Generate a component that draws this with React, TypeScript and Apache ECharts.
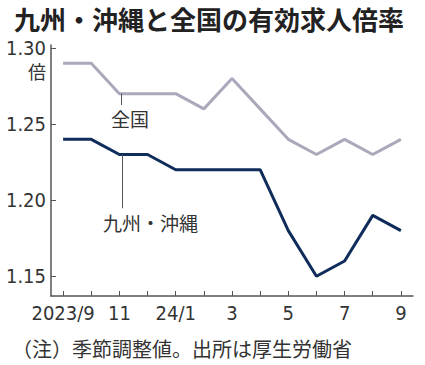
import React, { useEffect, useRef } from "react";
import * as echarts from "echarts";

const months = ["2023/9", "10", "11", "12", "24/1", "2", "3", "4", "5", "6", "7", "8", "9"];
const national = [1.29, 1.29, 1.27, 1.27, 1.27, 1.26, 1.28, 1.26, 1.24, 1.23, 1.24, 1.23, 1.24];
const kyushu = [1.24, 1.24, 1.23, 1.23, 1.22, 1.22, 1.22, 1.22, 1.18, 1.15, 1.16, 1.19, 1.18];
const yTicks = [1.15, 1.2, 1.25, 1.3];
const xLabelIdx = [0, 2, 4, 6, 8, 10, 12];

const NUM_FONT = "'Liberation Sans Narrow', 'DejaVu Sans Condensed', 'Noto Sans CJK JP', sans-serif";
const CJK_FONT = "'Noto Sans CJK JP', sans-serif";
const GRAY = "#a9a9bb";
const NAVY = "#0f2c5a";
const AXIS = "#555555";
const TEXT = "#333333";

export default function App() {
  const ref = useRef<HTMLDivElement>(null);
  useEffect(() => {
    document.body.style.margin = "0";
    if (!ref.current) return;
    const chart = echarts.init(ref.current, null, { renderer: "svg" });
    chart.setOption({
      animation: false,
      backgroundColor: "#ffffff",
      grid: { left: 51, right: 12, top: 45, bottom: 69 },
      xAxis: {
        type: "value",
        min: -0.43,
        max: 12.43,
        axisLine: { onZero: false, lineStyle: { color: AXIS, width: 1.5 } },
        axisTick: {
          inside: true,
          length: 5,
          customValues: months.map((_, i) => i),
          lineStyle: { color: AXIS, width: 1 },
        },
        axisLabel: {
          customValues: xLabelIdx,
          formatter: (v: number) => months[Math.round(v)],
          fontFamily: NUM_FONT,
          fontSize: 20,
          color: TEXT,
          margin: 7,
        },
        splitLine: { show: false },
      },
      yAxis: {
        type: "value",
        min: 1.137,
        max: 1.302,
        axisLine: { show: true, onZero: false, lineStyle: { color: AXIS, width: 1.5 } },
        axisTick: {
          show: true,
          inside: true,
          length: 5,
          customValues: yTicks,
          lineStyle: { color: AXIS, width: 1 },
        },
        axisLabel: {
          customValues: yTicks,
          formatter: (v: number) => v.toFixed(2),
          fontFamily: NUM_FONT,
          fontSize: 20,
          color: TEXT,
          margin: 5,
        },
        splitLine: { show: false },
      },
      graphic: [
        {
          type: "text",
          left: 14,
          top: 5,
          style: {
            text: "九州・沖縄と全国の有効求人倍率",
            fontFamily: CJK_FONT,
            fontSize: 26,
            fontWeight: "bold",
            fill: "#222222",
          },
        },
        {
          type: "text",
          x: 46,
          y: 71,
          style: {
            text: "倍",
            fontFamily: CJK_FONT,
            fontSize: 18,
            fill: TEXT,
            align: "right",
            verticalAlign: "middle",
          },
        },
        {
          type: "text",
          x: 111,
          y: 109,
          style: { text: "全国", fontFamily: CJK_FONT, fontSize: 19, fill: TEXT },
        },
        {
          type: "text",
          x: 103,
          y: 213,
          style: { text: "九州・沖縄", fontFamily: CJK_FONT, fontSize: 19, fill: TEXT },
        },
        {
          type: "text",
          x: 12,
          y: 338,
          style: {
            text: "（注）季節調整値。出所は厚生労働省",
            fontFamily: CJK_FONT,
            fontSize: 20,
            fill: TEXT,
          },
        },
      ],
      series: [
        {
          name: "全国",
          type: "line",
          data: national.map((v, i) => [i, v]),
          symbol: "none",
          lineStyle: { color: GRAY, width: 3 },
          z: 2,
          markLine: {
            silent: true,
            symbol: "none",
            label: { show: false },
            lineStyle: { color: "#555555", width: 1, type: "solid" },
            data: [[{ coord: [2.05, 1.27] }, { coord: [2.05, 1.2625] }]],
          },
        },
        {
          name: "九州・沖縄",
          type: "line",
          data: kyushu.map((v, i) => [i, v]),
          symbol: "none",
          lineStyle: { color: NAVY, width: 3 },
          z: 3,
          markLine: {
            silent: true,
            symbol: "none",
            label: { show: false },
            lineStyle: { color: "#555555", width: 1, type: "solid" },
            data: [[{ coord: [2.1, 1.23] }, { coord: [2.1, 1.1947] }]],
          },
        },
      ],
    });
    return () => chart.dispose();
  }, []);
  return <div ref={ref} style={{ width: 425, height: 365 }} />;
}
